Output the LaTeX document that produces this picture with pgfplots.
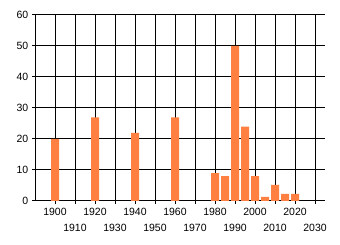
\documentclass[border=0pt]{standalone}
\usepackage{fontspec}
\setmainfont{Liberation Sans}
\usepackage{pgfplots}
\pgfplotsset{compat=1.18}
\definecolor{barorange}{HTML}{FF8040}
\begin{document}
\fontsize{10.5}{12}\selectfont
\begin{tikzpicture}
\path[use as bounding box] (0,0) rectangle (340pt,245pt);
\begin{axis}[
  at={(35pt,44pt)}, anchor=south west,
  scale only axis, width=290pt, height=186pt,
  xmin=1890, xmax=2035, ymin=0, ymax=60,
  axis lines*=left,
  axis line style={black, line width=1pt, -},
  xtick={1900,1920,...,2020},
  extra x ticks={1910,1930,...,2030},
  extra x tick style={grid=major, xticklabel style={yshift=-16pt}},
  ytick={0,10,...,60},
  grid=major,
  major grid style={black, line width=1pt},
  tick style={black, line width=1pt},
  major tick length=3pt,
  tick align=outside,
  tick label style={font=\fontsize{10.5}{12}\selectfont, text=black},
  /pgf/number format/1000 sep={},
  /pgf/number format/assume math mode=true,
  ybar, bar width=8pt,
]
\addplot[fill=barorange, draw=none] coordinates {
  (1900,20) (1920,27) (1940,22) (1960,27) (1980,9) (1985,8) (1990,50)
  (1995,24) (2000,8) (2005,1.3) (2010,5.2) (2015,2.3) (2020,2.3)
};
\end{axis}
\end{tikzpicture}
\end{document}
